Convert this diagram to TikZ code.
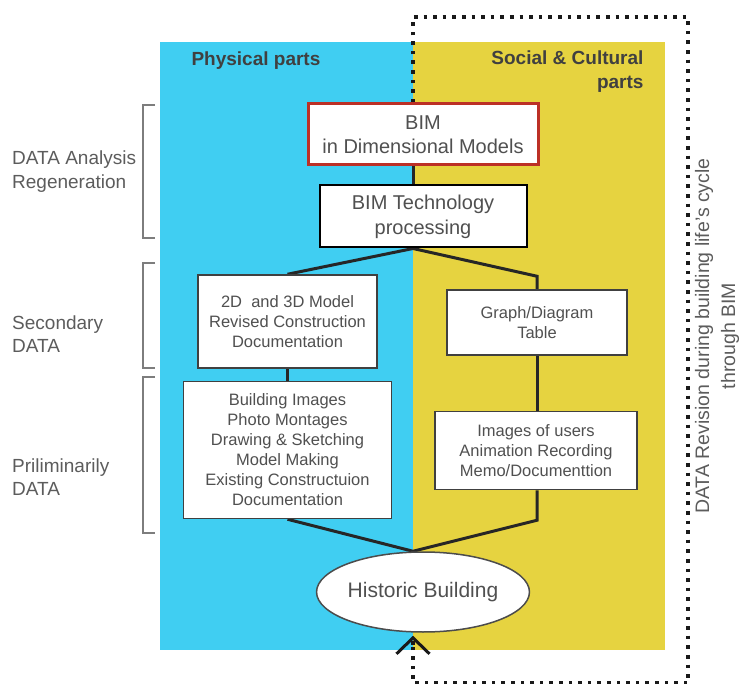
\documentclass[tikz,border=0pt]{standalone}
\usepackage{fontspec}
\setmainfont{Liberation Sans}
\usepackage{xcolor}
\usetikzlibrary{shapes.geometric, arrows.meta, positioning, calc, backgrounds}
\definecolor{physblue}{RGB}{64,206,242}
\definecolor{socyellow}{RGB}{230,211,64}
\definecolor{bimred}{RGB}{188,48,38}
\definecolor{txtgray}{RGB}{80,80,80}
\definecolor{lblgray}{RGB}{92,92,92}
\definecolor{brgray}{RGB}{125,125,125}

\begin{document}
\begin{tikzpicture}[
    x=1pt, y=-1pt,
    box/.style={rectangle, draw=black!75, line width=1.5pt, fill=white, align=center, text=txtgray, inner sep=2pt, font=\fontsize{16.5}{20}\selectfont},
    bim/.style={box, draw=bimred, line width=3pt, minimum width=230pt, minimum height=61pt, font=\fontsize{20}{24}\selectfont},
    tech/.style={box, draw=black, line width=2pt, minimum width=207pt, minimum height=62pt, font=\fontsize{20}{25}\selectfont},
    site/.style={ellipse, draw=black!70, line width=1.5pt, fill=white, text=txtgray, minimum width=160pt, minimum height=80pt, inner sep=0pt, font=\fontsize{21}{25}\selectfont},
    link/.style={line width=3pt, draw=black!85},
    revision/.style={line width=3.6pt, dash pattern=on 3.6pt off 6pt, draw=black!90},
    bracket/.style={line width=2pt, draw=brgray},
    level/.style={anchor=west, align=left, inner sep=0pt, text=lblgray, font=\fontsize{19}{23.5}\selectfont},
    part/.style={text=black!75, font=\fontsize{19}{24}\selectfont\bfseries}
]
\useasboundingbox (0,0) rectangle (744,684);

\begin{scope}[on background layer]
\fill[physblue] (160,42) rectangle (413,650);
\fill[socyellow] (413,42) rectangle (665,650);
\end{scope}

\coordinate (mid) at (413,0);

\node[bim] (bimdim) at (423,134.5) {BIM\\in Dimensional Models};
\node[tech, below=18pt of bimdim] (techproc) {BIM Technology\\processing};

\node[box, minimum width=179pt, minimum height=93pt] (secmodel) at (287.5,321.5) {2D~ and 3D Model\\Revised Construction\\Documentation};
\node[box, minimum width=208pt, minimum height=137pt, below=12pt of secmodel] (prelimimg) {Building Images\\Photo Montages\\Drawing \& Sketching\\Model Making\\Existing Constructuion\\Documentation};

\node[box, minimum width=180pt, minimum height=65pt] (secgraph) at (537,322.5) {Graph/Diagram\\Table};
\node[box, minimum width=202pt, minimum height=78pt, below=55pt of secgraph, xshift=-1pt] (prelimusers) {Images of users\\Animation Recording\\Memo/Documenttion};

\node[site] (historic) at (423,592) {Historic Building};

\coordinate[above=13pt of secgraph.north] (graphbend);
\coordinate[below=30pt of prelimusers.south -| secgraph.south] (usersbend);

\coordinate (revtl) at (413,17);
\coordinate (revtr) at (688,17);
\coordinate (revbr) at (688,683);
\coordinate (revbl) at (413,683);

\begin{scope}[on background layer]
\draw[link] (bimdim.south -| mid) -- (techproc.north -| mid);
\draw[link] (secmodel.north) -- (techproc.south -| mid) -- (graphbend) -- (secgraph.north);
\draw[link] (secmodel.south) -- (prelimimg.north);
\draw[link] (secgraph.south) -- (usersbend |- prelimusers.north);
\draw[link] (prelimimg.south) -- (historic.north -| mid) -- (usersbend) -- (usersbend |- prelimusers.south);
\draw[revision] (bimdim.north -| mid) -- (revtl) -- (revtr) -- (revbr) -- (revbl) -- ($(historic.south -| mid)+(0,10)$);
\end{scope}
\draw[revision, -{Straight Barb[length=16pt, width=33pt, line width=3pt]}] ($(historic.south -| mid)+(0,12)$) -- ($(historic.south -| mid)+(0,3)$);

\foreach \top/\bot in {105/238, 263/368, 377/533}
  \draw[bracket] (155,\top) -| (143,\bot) -- (155,\bot);

\node[level] (lvlanalysis) at (12,171.5) {DATA Analysis\\Regeneration};
\node[level] (lvlsecondary) at (12,334) {Secondary\\DATA};
\node[level] (lvlprelim) at (12,477) {Priliminarily\\DATA};

\node[part, anchor=west] (physical) at (188,61) {Physical parts};
\node[part, anchor=east, align=right] (social) at (647,72) {Social \& Cultural\\parts};

\node[rotate=90, align=center, text=lblgray, font=\fontsize{19.5}{26}\selectfont] (revlabel) at (717,336) {DATA Revision during building life's cycle\\through BIM};

\end{tikzpicture}
\end{document}
